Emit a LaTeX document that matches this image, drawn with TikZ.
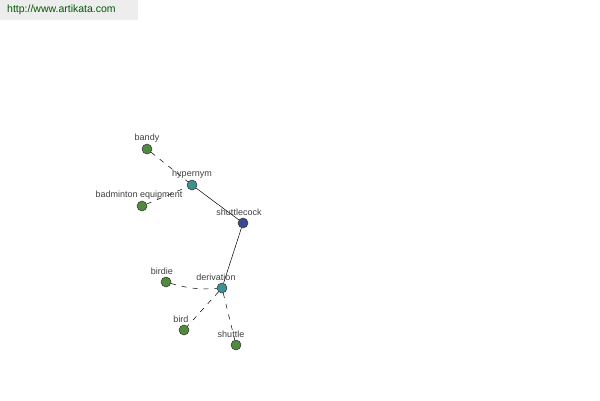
\documentclass[tikz,border=0pt]{standalone}
\usepackage{fontspec}
\setmainfont{Liberation Sans}
\begin{document}
\begin{tikzpicture}[x=1pt,y=-1pt,
  dot/.style={circle,draw=black!80,line width=0.5pt,minimum size=10pt,inner sep=0pt},
  lbl/.style={font=\fontsize{9}{10}\selectfont,text=black!75,inner sep=0pt},
  rel/.style={draw=black,line width=0.5pt},
  dsh/.style={rel,dashed,dash pattern=on 5pt off 6pt}]
\useasboundingbox (0,0) rectangle (600,400);
\fill[black!7] (0,0) rectangle (138,20);
\node[anchor=west,font=\fontsize{10.5}{12}\selectfont,text=green!35!black,inner sep=0pt] (url) at (7,10) {http://www.artikata.com};
\definecolor{leafc}{HTML}{4F8A3F}
\definecolor{midc}{HTML}{3F9090}
\definecolor{rootc}{HTML}{3B4A90}
\node[dot,fill=leafc] (bandy) at (147,149) {};
\node[dot,fill=midc] (hyper) at (192,185) {};
\node[dot,fill=leafc] (badm) at (142,206) {};
\node[dot,fill=rootc] (shuttlecock) at (243,223) {};
\node[dot,fill=midc] (deriv) at (222,288) {};
\node[dot,fill=leafc] (birdie) at (166,282) {};
\node[dot,fill=leafc] (bird) at (184,330) {};
\node[dot,fill=leafc] (shuttle) at (236,345) {};
\draw[dsh] (bandy) -- (hyper);
\draw[dsh] (badm) -- (hyper);
\draw[rel] (hyper) -- (shuttlecock);
\draw[rel] (shuttlecock) -- (deriv);
\draw[dsh] (birdie) to[bend right=10] (deriv);
\draw[dsh] (deriv) -- (bird);
\draw[dsh] (deriv) -- (shuttle);
\node[lbl] (lbandy) at (147,138) {bandy};
\node[lbl] (lhyper) at (192,174) {hypernym};
\node[lbl] (lbadm) at (139,195) {badminton equipment};
\node[lbl] (lsc) at (239,212) {shuttlecock};
\node[lbl] (lderiv) at (216,277) {derivation};
\node[lbl] (lbirdie) at (162,271) {birdie};
\node[lbl] (lbird) at (181,319) {bird};
\node[lbl] (lshuttle) at (231,334) {shuttle};
\end{tikzpicture}
\end{document}
